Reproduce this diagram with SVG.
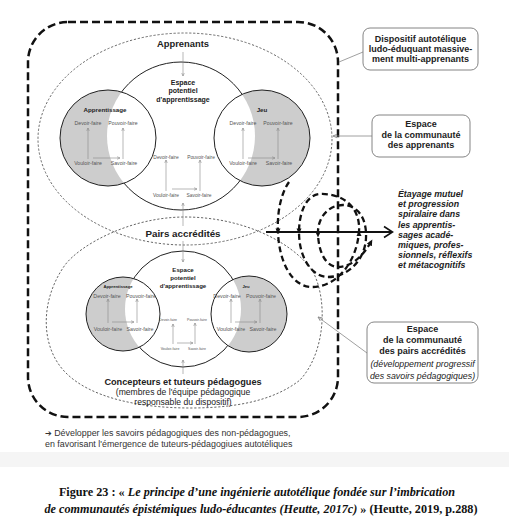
<svg xmlns="http://www.w3.org/2000/svg" width="509" height="532" viewBox="0 0 509 532">
<defs>
<style>
.lbl{font-family:"Liberation Sans",Arial,sans-serif;fill:#222;text-anchor:middle}
.b{font-weight:bold}
.sm{font-family:"Liberation Sans",Arial,sans-serif;fill:#555;text-anchor:middle}
.dot{fill:none;stroke:#555;stroke-width:0.9;stroke-dasharray:2.2 1.8}
.solid{fill:#fff;stroke:#222;stroke-width:1}
.ring{fill:none;stroke:#222;stroke-width:1}
.gray{fill:#cdcdcd}
.ar{stroke:#888;stroke-width:0.6;fill:none;marker-end:url(#ah)}
.ar2{stroke:#888;stroke-width:0.8;fill:none;marker-end:url(#ah2)}
.box{fill:#fff;stroke:#777;stroke-width:0.9}
.con{stroke:#888;stroke-width:0.8;fill:none}
.thick{fill:none;stroke:#111;stroke-width:2.3;stroke-dasharray:6 3.5}
.cap{font-family:"Liberation Serif","Times New Roman",serif;font-weight:bold;fill:#111;text-anchor:middle;font-size:12.2px}
</style>
<marker id="ah" viewBox="0 0 6 6" refX="5.5" refY="3" markerWidth="3.5" markerHeight="3.5" markerUnits="userSpaceOnUse" orient="auto"><path d="M0.5,0.8 L5.5,3 L0.5,5.2" fill="none" stroke="#888" stroke-width="1"/></marker>
<marker id="ah2" viewBox="0 0 6 6" refX="5.5" refY="3" markerWidth="5" markerHeight="5" markerUnits="userSpaceOnUse" orient="auto"><path d="M0.5,0.8 L5.5,3 L0.5,5.2" fill="none" stroke="#888" stroke-width="1"/></marker>
<marker id="sp" viewBox="0 0 10 10" refX="8" refY="5" markerWidth="7" markerHeight="7" markerUnits="userSpaceOnUse" orient="auto"><path d="M0,1 L9,5 L0,9 z" fill="#111"/></marker>
<clipPath id="cTL"><circle cx="108" cy="138" r="48"/></clipPath>
<clipPath id="cTR"><circle cx="262" cy="138" r="48"/></clipPath>
<clipPath id="cBL"><circle cx="123" cy="314" r="37"/></clipPath>
<clipPath id="cBR"><circle cx="249" cy="314" r="38"/></clipPath>
</defs>
<rect width="509" height="532" fill="#fff"/>
<rect x="0" y="452" width="509" height="15" fill="#f5f5f5"/>

<g id="dispositif">
<rect x="28" y="22" width="310" height="395" rx="40" fill="none" stroke="#111" stroke-width="2.5" stroke-dasharray="8 4"/>
</g>

<g id="communaute-apprenants">
<ellipse class="dot" cx="185" cy="139" rx="147" ry="106"/>
</g>
<g id="communaute-pairs">
<path class="dot" d="M185,217 C240,217 290,240 312,270 C328,298 326,352 300,380 C272,402 232,408 190,408 C140,408 90,398 65,372 C40,346 40,300 65,265 C80,245 130,217 185,217 Z"/>
</g>

<g id="espace-top">
<circle class="solid" cx="181" cy="136" r="74"/>
</g>
<g id="apprentissage-top">
<circle class="gray" cx="108" cy="138" r="48"/>
<circle cx="181" cy="136" r="74" fill="#fff" clip-path="url(#cTL)"/>
<circle class="ring" cx="108" cy="138" r="48"/>
<text class="lbl b" x="105" y="112" font-size="6.2">Apprentissage</text>
<text class="sm" x="88" y="125" font-size="5.2">Devoir-faire</text>
<text class="sm" x="123" y="125" font-size="5.2">Pouvoir-faire</text>
<text class="sm" x="88" y="165" font-size="5.2">Vouloir-faire</text>
<text class="sm" x="124" y="165" font-size="5.2">Savoir-faire</text>
</g>
<g id="jeu-top">
<circle class="gray" cx="262" cy="138" r="48"/>
<circle cx="181" cy="136" r="74" fill="#fff" clip-path="url(#cTR)"/>
<circle class="ring" cx="262" cy="138" r="48"/>
<text class="lbl b" x="262" y="112" font-size="6.2">Jeu</text>
<text class="sm" x="243" y="125" font-size="5.2">Devoir-faire</text>
<text class="sm" x="278" y="125" font-size="5.2">Pouvoir-faire</text>
<text class="sm" x="243" y="165" font-size="5.2">Vouloir-faire</text>
<text class="sm" x="279" y="165" font-size="5.2">Savoir-faire</text>
</g>
<g id="espace-top-labels">
<text class="lbl b" x="183" y="84.5" font-size="7">Espace</text>
<text class="lbl b" x="183" y="93" font-size="7">potentiel</text>
<text class="lbl b" x="183" y="102" font-size="7">d'apprentissage</text>
<text class="sm" x="166" y="158.5" font-size="4.9">Devoir-faire</text>
<text class="sm" x="201" y="158.5" font-size="4.9">Pouvoir-faire</text>
<text class="sm" x="166" y="197" font-size="4.9">Vouloir-faire</text>
<text class="sm" x="199" y="197" font-size="4.9">Savoir-faire</text>
</g>

<g id="apprenants">
<text class="lbl b" x="183" y="47" font-size="9.4">Apprenants</text>
</g>
<g id="pairs">
<text class="lbl b" x="183" y="236.5" font-size="9.8">Pairs accrédités</text>
</g>

<g id="espace-bottom">
<circle class="solid" cx="183" cy="309" r="58"/>
</g>
<g id="apprentissage-bottom">
<circle class="gray" cx="123" cy="314" r="37"/>
<circle cx="183" cy="309" r="58" fill="#fff" clip-path="url(#cBL)"/>
<circle class="ring" cx="123" cy="314" r="37"/>
<text class="lbl b" x="118" y="288" font-size="4.2">Apprentissage</text>
<text class="sm" x="107" y="298" font-size="5.3">Devoir-faire</text>
<text class="sm" x="141" y="298" font-size="5.3">Pouvoir-faire</text>
<text class="sm" x="108" y="331" font-size="5.3">Vouloir-faire</text>
<text class="sm" x="140" y="331" font-size="5.3">Savoir-faire</text>
</g>
<g id="jeu-bottom">
<circle class="gray" cx="249" cy="314" r="38"/>
<circle cx="183" cy="309" r="58" fill="#fff" clip-path="url(#cBR)"/>
<circle class="ring" cx="249" cy="314" r="38"/>
<text class="lbl b" x="246" y="288" font-size="4.2">Jeu</text>
<text class="sm" x="227" y="298" font-size="5.3">Devoir-faire</text>
<text class="sm" x="261" y="298" font-size="5.3">Pouvoir-faire</text>
<text class="sm" x="231" y="331" font-size="5.3">Vouloir-faire</text>
<text class="sm" x="263" y="331" font-size="5.3">Savoir-faire</text>
</g>
<g id="espace-bottom-labels">
<text class="lbl b" x="183" y="272" font-size="6.1">Espace</text>
<text class="lbl b" x="183" y="280" font-size="6.1">potentiel</text>
<text class="lbl b" x="183" y="288" font-size="6.1">d'apprentissage</text>
<text class="sm" x="168" y="321" font-size="3.5">Devoir-faire</text>
<text class="sm" x="197" y="321" font-size="3.5">Pouvoir-faire</text>
<text class="sm" x="170" y="350" font-size="3.5">Vouloir-faire</text>
<text class="sm" x="197" y="350" font-size="3.5">Savoir-faire</text>
</g>

<g id="concepteurs">
<text class="lbl b" x="183" y="384.5" font-size="9.2">Concepteurs et tuteurs pédagogues</text>
<text class="lbl" x="183" y="395" font-size="8.6" fill="#444">(membres de l'équipe pédagogique</text>
<text class="lbl" x="183" y="405" font-size="8.6" fill="#444">responsable du dispositif)</text>
</g>

<g id="connectors">
<line class="ar" x1="183" y1="52" x2="183" y2="76"/>
<line class="ar" x1="183" y1="226" x2="183" y2="203"/>
<line class="ar" x1="183" y1="241" x2="183" y2="262"/>
<line class="ar" x1="183" y1="374" x2="183" y2="360"/>
<line class="ar" x1="88" y1="159" x2="88" y2="128"/>
<line class="ar" x1="123" y1="159" x2="123" y2="128"/>
<line class="ar" x1="93" y1="158" x2="120" y2="158"/>
<line class="ar" x1="243" y1="159" x2="243" y2="128"/>
<line class="ar" x1="278" y1="159" x2="278" y2="128"/>
<line class="ar" x1="248" y1="158" x2="275" y2="158"/>
<line class="ar" x1="166" y1="191" x2="166" y2="160"/>
<line class="ar" x1="200" y1="191" x2="200" y2="160"/>
<line class="ar" x1="172" y1="189" x2="197" y2="189"/>
<line class="ar" x1="108" y1="323" x2="108" y2="299"/>
<line class="ar" x1="137" y1="323" x2="137" y2="299"/>
<line class="ar" x1="112" y1="322" x2="134" y2="322"/>
<line class="ar" x1="231" y1="323" x2="231" y2="299"/>
<line class="ar" x1="260" y1="323" x2="260" y2="299"/>
<line class="ar" x1="235" y1="322" x2="257" y2="322"/>
<line class="ar" x1="173" y1="344" x2="173" y2="324"/>
<line class="ar" x1="195" y1="344" x2="195" y2="323"/>
<line class="ar" x1="177" y1="343" x2="193" y2="343"/>
<line class="con" x1="363" y1="52" x2="339" y2="62"/>
<line class="ar2" x1="372" y1="136" x2="333" y2="136"/>
<line class="ar2" x1="367" y1="353" x2="318" y2="317"/>
</g>

<g id="spirale">
<path class="thick" marker-end="url(#sp)" d="M289,182 C280,195 277,215 278,232 C279,262 292,287 312,287 C335,287 356,265 359,232 C361,205 340,193 320,194 C305,195 299,215 299,232 C299,258 312,277 328,277 C348,277 365,260 366,238 C367,215 355,205 343,205 C328,205 318,218 318,232 C318,252 326,267 338,267 C352,267 364,255 372,240"/>
<line x1="266" y1="232" x2="392" y2="232" stroke="#111" stroke-width="1.8"/>
<polyline points="384,226.5 392.5,232 384,237.5" fill="none" stroke="#111" stroke-width="1.6"/>
<polygon points="275.5,228.5 280.5,228.5 278,234" fill="#111"/>
<polygon points="296.5,228.5 301.5,228.5 299,234" fill="#111"/>
<polygon points="315.5,232 320.5,232 318,237.5" fill="#111"/>
<polygon points="356.5,236 361.5,236 359,230.5" fill="#111"/>
</g>
<g id="etayage">
<text font-family="Liberation Sans,Arial,sans-serif" font-weight="bold" font-style="italic" font-size="8.8" fill="#222">
<tspan x="398" y="197">Étayage mutuel</tspan>
<tspan x="398" y="207">et progression</tspan>
<tspan x="398" y="217">spiralaire dans</tspan>
<tspan x="398" y="227.5">les apprentis-</tspan>
<tspan x="398" y="237.5">sages acadé-</tspan>
<tspan x="398" y="247.5">miques, profes-</tspan>
<tspan x="398" y="258">sionnels, réflexifs</tspan>
<tspan x="398" y="268">et métacognitifs</tspan>
</text>
</g>

<g id="box-dispositif">
<rect class="box" x="363" y="28" width="115" height="42" rx="7"/>
<text class="lbl b" x="420.5" y="41.5" font-size="9">Dispositif autotélique</text>
<text class="lbl b" x="420.5" y="51.5" font-size="9">ludo-éduquant massive-</text>
<text class="lbl b" x="420.5" y="61.5" font-size="9">ment multi-apprenants</text>
</g>
<g id="box-apprenants">
<rect class="box" x="372" y="115" width="98" height="42" rx="7"/>
<text class="lbl b" x="421" y="127" font-size="9">Espace</text>
<text class="lbl b" x="421" y="137.5" font-size="9">de la communauté</text>
<text class="lbl b" x="421" y="148" font-size="9">des apprenants</text>
</g>
<g id="box-pairs">
<rect class="box" x="367" y="322" width="111" height="61" rx="7"/>
<text class="lbl b" x="422.5" y="331.5" font-size="9">Espace</text>
<text class="lbl b" x="422.5" y="342.5" font-size="9">de la communauté</text>
<text class="lbl b" x="422.5" y="353.5" font-size="9">des pairs accrédités</text>
<text class="lbl" x="422.5" y="366.5" font-size="8.8" font-style="italic" fill="#333">(développement progressif</text>
<text class="lbl" x="422.5" y="378.5" font-size="8.8" font-style="italic" fill="#333">des savoirs pédagogiques)</text>
</g>

<g id="note">
<text font-family="Liberation Sans,Arial,sans-serif" font-size="8.9" fill="#333">
<tspan x="45" y="436"><tspan font-family="DejaVu Sans,sans-serif" font-size="8">➔</tspan> Développer les savoirs pédagogiques des non-pédagogues,</tspan>
<tspan x="45" y="447">en favorisant l'émergence de tuteurs-pédagogiues autotéliques</tspan>
</text>
</g>

<g id="caption">
<text class="cap" x="257" y="496"><tspan>Figure 23 : « </tspan><tspan font-style="italic">Le principe d’une ingénierie autotélique fondée sur l’imbrication</tspan></text>
<text class="cap" x="261" y="513"><tspan font-style="italic">de communautés épistémiques ludo-éducantes (Heutte, 2017c)</tspan><tspan> » (Heutte, 2019, p.288)</tspan></text>
</g>
</svg>
